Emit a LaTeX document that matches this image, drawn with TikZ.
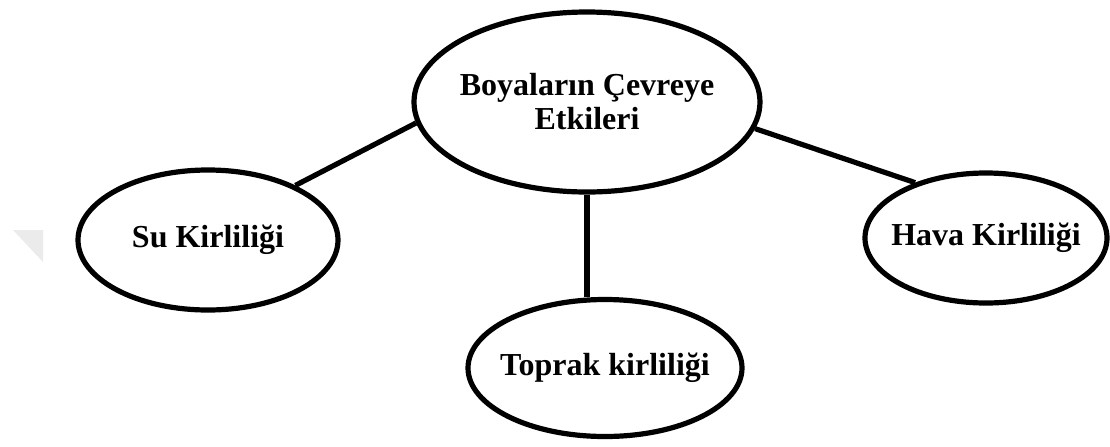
\documentclass[tikz,border=0pt]{standalone}
\usepackage{fontspec}
\setmainfont{Liberation Serif}
\usetikzlibrary{shapes}

\begin{document}
\begin{tikzpicture}
 			[
 			x=0.5pt, y=-0.5pt,
 			topic/.style={ellipse, draw, line width=2.6pt, inner ysep=0pt, inner xsep=-20pt, align=center,
 				font=\fontsize{16}{17}\selectfont\bfseries},
 			link/.style={line width=2.6pt}]
 			\useasboundingbox (0,0) rectangle (1110,446);
 			\fill[black!8] (13,230) -- (43,230) -- (43,262) -- cycle;
 			\node (etki)   at (587,102) [topic, minimum width=173pt, minimum height=90pt] {Boyaların Çevreye\\Etkileri};
 			\node (su)     at (208,240) [topic, minimum width=130pt, minimum height=70pt] {Su Kirliliği};
 			\node (hava)   at (986,238) [topic, minimum width=121pt, minimum height=65pt] {Hava Kirliliği};
 			\node (toprak) at (605,368) [topic, minimum width=137pt, minimum height=68.5pt] {Toprak kirliliği};
 			\draw[link] (etki.187) -- (su.32);
 			\draw[link] (etki.351) -- (hava.142);
 			\draw[link] (etki.south) -- (etki.south |- toprak.north);
 		\end{tikzpicture}
\end{document}
